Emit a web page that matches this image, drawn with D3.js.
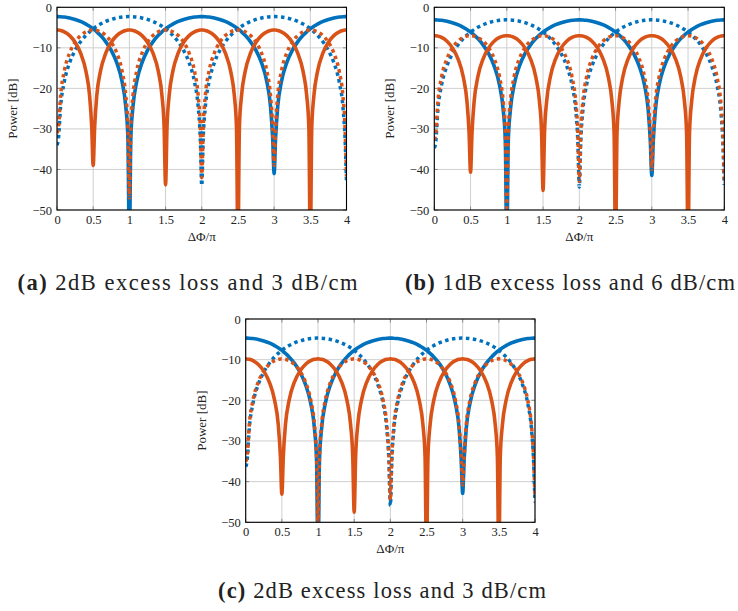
<!DOCTYPE html>
<html>
<head>
<meta charset="utf-8">
<script src="https://cdn.jsdelivr.net/npm/d3@7"></script>
<style>
  html, body { margin: 0; padding: 0; background: #fff; }
  svg { display: block; }
  text { font-family: "Liberation Serif", "DejaVu Serif", serif; fill: #222; }
</style>
</head>
<body>
<svg id="fig" width="738" height="611"></svg>
<script>
// ---- shared x samples (ΔΦ/π) ----
const X = [0,0.02,0.05,0.1,0.175,0.25,0.325,0.4,0.45,0.48,
  0.5,0.52,0.55,0.6,0.675,0.75,0.825,0.9,0.95,0.98,
  1,1.02,1.05,1.1,1.175,1.25,1.325,1.4,1.45,1.48,
  1.5,1.52,1.55,1.6,1.675,1.75,1.825,1.9,1.95,1.98,
  2,2.02,2.05,2.1,2.175,2.25,2.325,2.4,2.45,2.48,
  2.5,2.52,2.55,2.6,2.675,2.75,2.825,2.9,2.95,2.98,
  3,3.02,3.05,3.1,3.175,3.25,3.325,3.4,3.45,3.48,
  3.5,3.52,3.55,3.6,3.675,3.75,3.825,3.9,3.95,3.98,
  4];

// ---- panel (a) ----
const aBlueSolid = [-2.3,
  -2.3,-2.33,-2.41,-2.63,-2.99,-3.48,-4.14,-4.68,-5.05,-5.31,-5.59,-6.05,-6.92,-8.52,-10.64,-13.63,-18.41,-24.41,-32.36,
  -60,
  -32.36,-24.41,-18.41,-13.63,-10.64,-8.52,-6.92,-6.05,-5.59,-5.31,-5.05,-4.68,-4.14,-3.48,-2.99,-2.63,-2.41,-2.33,-2.3,
  -2.3,
  -2.3,-2.33,-2.41,-2.63,-2.99,-3.48,-4.14,-4.68,-5.05,-5.31,-5.59,-6.05,-6.92,-8.52,-10.64,-13.63,-18.41,-24.41,-32.36,
  -41,
  -32.36,-24.41,-18.41,-13.63,-10.64,-8.52,-6.92,-6.05,-5.59,-5.31,-5.05,-4.68,-4.14,-3.48,-2.99,-2.63,-2.41,-2.33,-2.3,
  -2.3];
const aBlueDotted = [-34,
  -32.36,-24.41,-18.41,-13.63,-10.64,-8.52,-6.92,-6.05,-5.59,-5.31,-5.05,-4.68,-4.14,-3.48,-2.99,-2.63,-2.41,-2.33,-2.3,
  -2.3,
  -2.3,-2.33,-2.41,-2.63,-2.99,-3.48,-4.14,-4.68,-5.05,-5.31,-5.59,-6.05,-6.92,-8.52,-10.64,-13.63,-18.41,-24.41,-32.36,
  -44,
  -32.36,-24.41,-18.41,-13.63,-10.64,-8.52,-6.92,-6.05,-5.59,-5.31,-5.05,-4.68,-4.14,-3.48,-2.99,-2.63,-2.41,-2.33,-2.3,
  -2.3,
  -2.3,-2.33,-2.41,-2.63,-2.99,-3.48,-4.14,-4.68,-5.05,-5.31,-5.59,-6.05,-6.92,-8.52,-10.64,-13.63,-18.41,-24.41,-32.36,
  -43];
const aOrangeSolid = [-5.6,
  -5.62,-5.71,-6.04,-6.98,-8.61,-11.24,-15.8,-21.71,-29.64,
  -39,
  -29.64,-21.71,-15.8,-11.24,-8.61,-6.98,-6.04,-5.71,-5.62,
  -5.6,
  -5.62,-5.71,-6.04,-6.98,-8.61,-11.24,-15.8,-21.71,-29.64,
  -43.8,
  -29.64,-21.71,-15.8,-11.24,-8.61,-6.98,-6.04,-5.71,-5.62,
  -5.6,
  -5.62,-5.71,-6.04,-6.98,-8.61,-11.24,-15.8,-21.71,-29.64,
  -60,
  -29.64,-21.71,-15.8,-11.24,-8.61,-6.98,-6.04,-5.71,-5.62,
  -5.6,
  -5.62,-5.71,-6.04,-6.98,-8.61,-11.24,-15.8,-21.71,-29.64,
  -60,
  -29.64,-21.71,-15.8,-11.24,-8.61,-6.98,-6.04,-5.71,-5.62,
  -5.6];
const aOrangeDotted = [-31,
  -29.64,-21.71,-15.8,-11.24,-8.61,-6.98,-6.04,-5.71,-5.62,
  -5.6,
  -5.62,-5.71,-6.04,-6.98,-8.61,-11.24,-15.8,-21.71,-29.64,
  -47,
  -29.64,-21.71,-15.8,-11.24,-8.61,-6.98,-6.04,-5.71,-5.62,
  -5.6,
  -5.62,-5.71,-6.04,-6.98,-8.61,-11.24,-15.8,-21.71,-29.64,
  -42,
  -29.64,-21.71,-15.8,-11.24,-8.61,-6.98,-6.04,-5.71,-5.62,
  -5.6,
  -5.62,-5.71,-6.04,-6.98,-8.61,-11.24,-15.8,-21.71,-29.64,
  -39,
  -29.64,-21.71,-15.8,-11.24,-8.61,-6.98,-6.04,-5.71,-5.62,
  -5.6,
  -5.62,-5.71,-6.04,-6.98,-8.61,-11.24,-15.8,-21.71,-29.64,
  -41.7];

// ---- panel (b) ----
const bBlueSolid = [-3.1,
  -3.1,-3.13,-3.21,-3.43,-3.79,-4.28,-4.94,-5.48,-5.85,-6.11,-6.39,-6.85,-7.72,-9.32,-11.44,-14.43,-19.21,-25.21,-33.16,
  -60,
  -33.16,-25.21,-19.21,-14.43,-11.44,-9.32,-7.72,-6.85,-6.39,-6.11,-5.85,-5.48,-4.94,-4.28,-3.79,-3.43,-3.21,-3.13,-3.1,
  -3.1,
  -3.1,-3.13,-3.21,-3.43,-3.79,-4.28,-4.94,-5.48,-5.85,-6.11,-6.39,-6.85,-7.72,-9.32,-11.44,-14.43,-19.21,-25.21,-33.16,
  -41.5,
  -33.16,-25.21,-19.21,-14.43,-11.44,-9.32,-7.72,-6.85,-6.39,-6.11,-5.85,-5.48,-4.94,-4.28,-3.79,-3.43,-3.21,-3.13,-3.1,
  -3.1];
const bBlueDotted = [-34.7,
  -33.16,-25.21,-19.21,-14.43,-11.44,-9.32,-7.72,-6.85,-6.39,-6.11,-5.85,-5.48,-4.94,-4.28,-3.79,-3.43,-3.21,-3.13,-3.1,
  -3.1,
  -3.1,-3.13,-3.21,-3.43,-3.79,-4.28,-4.94,-5.48,-5.85,-6.11,-6.39,-6.85,-7.72,-9.32,-11.44,-14.43,-19.21,-25.21,-33.16,
  -44.3,
  -33.16,-25.21,-19.21,-14.43,-11.44,-9.32,-7.72,-6.85,-6.39,-6.11,-5.85,-5.48,-4.94,-4.28,-3.79,-3.43,-3.21,-3.13,-3.1,
  -3.1,
  -3.1,-3.13,-3.21,-3.43,-3.79,-4.28,-4.94,-5.48,-5.85,-6.11,-6.39,-6.85,-7.72,-9.32,-11.44,-14.43,-19.21,-25.21,-33.16,
  -43.8];
const bOrangeSolid = [-7,
  -7.02,-7.11,-7.44,-8.38,-10.01,-12.64,-17.2,-23.11,-31.04,
  -40.7,
  -31.04,-23.11,-17.2,-12.64,-10.01,-8.38,-7.44,-7.11,-7.02,
  -7,
  -7.02,-7.11,-7.44,-8.38,-10.01,-12.64,-17.2,-23.11,-31.04,
  -45.2,
  -31.04,-23.11,-17.2,-12.64,-10.01,-8.38,-7.44,-7.11,-7.02,
  -7,
  -7.02,-7.11,-7.44,-8.38,-10.01,-12.64,-17.2,-23.11,-31.04,
  -60,
  -31.04,-23.11,-17.2,-12.64,-10.01,-8.38,-7.44,-7.11,-7.02,
  -7,
  -7.02,-7.11,-7.44,-8.38,-10.01,-12.64,-17.2,-23.11,-31.04,
  -60,
  -31.04,-23.11,-17.2,-12.64,-10.01,-8.38,-7.44,-7.11,-7.02,
  -7];
const bOrangeDotted = [-32.7,
  -31.04,-23.11,-17.2,-12.64,-10.01,-8.38,-7.44,-7.11,-7.02,
  -7,
  -7.02,-7.11,-7.44,-8.38,-10.01,-12.64,-17.2,-23.11,-31.04,
  -49.5,
  -31.04,-23.11,-17.2,-12.64,-10.01,-8.38,-7.44,-7.11,-7.02,
  -7,
  -7.02,-7.11,-7.44,-8.38,-10.01,-12.64,-17.2,-23.11,-31.04,
  -42.9,
  -31.04,-23.11,-17.2,-12.64,-10.01,-8.38,-7.44,-7.11,-7.02,
  -7,
  -7.02,-7.11,-7.44,-8.38,-10.01,-12.64,-17.2,-23.11,-31.04,
  -40,
  -31.04,-23.11,-17.2,-12.64,-10.01,-8.38,-7.44,-7.11,-7.02,
  -7,
  -7.02,-7.11,-7.44,-8.38,-10.01,-12.64,-17.2,-23.11,-31.04,
  -42.5];

// ---- panel (c) ----
const cBlueSolid = [-4.7,
  -4.7,-4.73,-4.81,-5.03,-5.39,-5.88,-6.54,-7.08,-7.45,-7.71,-7.99,-8.45,-9.32,-10.92,-13.04,-16.03,-20.81,-26.81,-34.76,
  -60,
  -34.76,-26.81,-20.81,-16.03,-13.04,-10.92,-9.32,-8.45,-7.99,-7.71,-7.45,-7.08,-6.54,-5.88,-5.39,-5.03,-4.81,-4.73,-4.7,
  -4.7,
  -4.7,-4.73,-4.81,-5.03,-5.39,-5.88,-6.54,-7.08,-7.45,-7.71,-7.99,-8.45,-9.32,-10.92,-13.04,-16.03,-20.81,-26.81,-34.76,
  -42.9,
  -34.76,-26.81,-20.81,-16.03,-13.04,-10.92,-9.32,-8.45,-7.99,-7.71,-7.45,-7.08,-6.54,-5.88,-5.39,-5.03,-4.81,-4.73,-4.7,
  -4.7];
const cBlueDotted = [-36.3,
  -34.76,-26.81,-20.81,-16.03,-13.04,-10.92,-9.32,-8.45,-7.99,-7.71,-7.45,-7.08,-6.54,-5.88,-5.39,-5.03,-4.81,-4.73,-4.7,
  -4.7,
  -4.7,-4.73,-4.81,-5.03,-5.39,-5.88,-6.54,-7.08,-7.45,-7.71,-7.99,-8.45,-9.32,-10.92,-13.04,-16.03,-20.81,-26.81,-34.76,
  -45.9,
  -34.76,-26.81,-20.81,-16.03,-13.04,-10.92,-9.32,-8.45,-7.99,-7.71,-7.45,-7.08,-6.54,-5.88,-5.39,-5.03,-4.81,-4.73,-4.7,
  -4.7,
  -4.7,-4.73,-4.81,-5.03,-5.39,-5.88,-6.54,-7.08,-7.45,-7.71,-7.99,-8.45,-9.32,-10.92,-13.04,-16.03,-20.81,-26.81,-34.76,
  -45.1];
const cOrangeSolid = [-9.8,
  -9.82,-9.91,-10.24,-11.18,-12.81,-15.44,-20,-25.91,-33.84,
  -43.1,
  -33.84,-25.91,-20,-15.44,-12.81,-11.18,-10.24,-9.91,-9.82,
  -9.8,
  -9.82,-9.91,-10.24,-11.18,-12.81,-15.44,-20,-25.91,-33.84,
  -47.5,
  -33.84,-25.91,-20,-15.44,-12.81,-11.18,-10.24,-9.91,-9.82,
  -9.8,
  -9.82,-9.91,-10.24,-11.18,-12.81,-15.44,-20,-25.91,-33.84,
  -60,
  -33.84,-25.91,-20,-15.44,-12.81,-11.18,-10.24,-9.91,-9.82,
  -9.8,
  -9.82,-9.91,-10.24,-11.18,-12.81,-15.44,-20,-25.91,-33.84,
  -60,
  -33.84,-25.91,-20,-15.44,-12.81,-11.18,-10.24,-9.91,-9.82,
  -9.8];
const cOrangeDotted = [-35,
  -33.84,-25.91,-20,-15.44,-12.81,-11.18,-10.24,-9.91,-9.82,
  -9.8,
  -9.82,-9.91,-10.24,-11.18,-12.81,-15.44,-20,-25.91,-33.84,
  -50.5,
  -33.84,-25.91,-20,-15.44,-12.81,-11.18,-10.24,-9.91,-9.82,
  -9.8,
  -9.82,-9.91,-10.24,-11.18,-12.81,-15.44,-20,-25.91,-33.84,
  -44.5,
  -33.84,-25.91,-20,-15.44,-12.81,-11.18,-10.24,-9.91,-9.82,
  -9.8,
  -9.82,-9.91,-10.24,-11.18,-12.81,-15.44,-20,-25.91,-33.84,
  -40.8,
  -33.84,-25.91,-20,-15.44,-12.81,-11.18,-10.24,-9.91,-9.82,
  -9.8,
  -9.82,-9.91,-10.24,-11.18,-12.81,-15.44,-20,-25.91,-33.84,
  -43.7];

// ---- ticks & labels ----
const xTicks = [0,0.5,1,1.5,2,2.5,3,3.5,4];
const xTickLabels = ["0","0.5","1","1.5","2","2.5","3","3.5","4"];
const yTicks = [0,-10,-20,-30,-40,-50];
const yTickLabels = ["0","\u221210","\u221220","\u221230","\u221240","\u221250"];
const xLabel = "\u0394\u03A6/\u03C0";
const yLabel = "Power [dB]";
const captionTags = ["(a)","(b)","(c)"];
const captionTexts = ["2dB excess loss and 3 dB/cm","1dB excess loss and 6 dB/cm","2dB excess loss and 3 dB/cm"];

// ---- layout (positions only) ----
const layout = [
  {left:57,    right:346.5, top:7.3, bottom:210,   capX:187.5, capY:290, capW:340},
  {left:434.3, right:724.3, top:7.3, bottom:210,   capX:570,   capY:290, capW:330},
  {left:245.7, right:535,   top:319, bottom:522.3, capX:382,   capY:598, capW:328}
];
const seriesSets = [
  [aBlueSolid, aBlueDotted, aOrangeSolid, aOrangeDotted],
  [bBlueSolid, bBlueDotted, bOrangeSolid, bOrangeDotted],
  [cBlueSolid, cBlueDotted, cOrangeSolid, cOrangeDotted]
];
const styles = [
  {color:"#0072BD", dash:null, width:3.6},
  {color:"#0072BD", dash:"3.5,3.5", width:3.5},
  {color:"#D95319", dash:null, width:3.6},
  {color:"#D95319", dash:"3.5,3.5", width:3.5}
];

const svg = d3.select("#fig");

layout.forEach((L, pi) => {
  const x = d3.scaleLinear().domain([0,4]).range([L.left, L.right]);
  const y = d3.scaleLinear().domain([-50,0]).range([L.bottom, L.top]);
  const g = svg.append("g");

  const clipId = "clip" + pi;
  svg.append("clipPath").attr("id", clipId).append("rect")
    .attr("x", L.left).attr("y", L.top)
    .attr("width", L.right - L.left).attr("height", L.bottom - L.top);

  // grid
  g.append("g").selectAll("line").data(xTicks).join("line")
    .attr("x1", d => x(d)).attr("x2", d => x(d))
    .attr("y1", L.top).attr("y2", L.bottom)
    .attr("stroke", "#cfcfcf").attr("stroke-width", 1);
  g.append("g").selectAll("line").data(yTicks).join("line")
    .attr("x1", L.left).attr("x2", L.right)
    .attr("y1", d => y(d)).attr("y2", d => y(d))
    .attr("stroke", "#cfcfcf").attr("stroke-width", 1);

  // small inner ticks
  const tk = g.append("g").attr("stroke", "#8a8a8a").attr("stroke-width", 1);
  xTicks.forEach(d => {
    tk.append("line").attr("x1", x(d)).attr("x2", x(d)).attr("y1", L.bottom).attr("y2", L.bottom - 3.5);
    tk.append("line").attr("x1", x(d)).attr("x2", x(d)).attr("y1", L.top).attr("y2", L.top + 3.5);
  });
  yTicks.forEach(d => {
    tk.append("line").attr("x1", L.left).attr("x2", L.left + 3.5).attr("y1", y(d)).attr("y2", y(d));
    tk.append("line").attr("x1", L.right).attr("x2", L.right - 3.5).attr("y1", y(d)).attr("y2", y(d));
  });

  // curves
  const cg = g.append("g").attr("clip-path", `url(#${clipId})`);
  seriesSets[pi].forEach((vals, si) => {
    if (vals.length !== X.length) console.error("length mismatch", pi, si, vals.length);
    const line = d3.line()
      .x((d, i) => x(X[i]))
      .y(d => y(d))
      .curve(d3.curveMonotoneX);
    const st = styles[si];
    const p = cg.append("path").attr("d", line(vals))
      .attr("fill", "none").attr("stroke", st.color)
      .attr("stroke-width", st.width)
      .attr("stroke-linejoin", "bevel").attr("stroke-linecap", "butt");
    if (st.dash) p.attr("stroke-dasharray", st.dash);
  });

  // frame
  g.append("rect").attr("x", L.left).attr("y", L.top)
    .attr("width", L.right - L.left).attr("height", L.bottom - L.top)
    .attr("fill", "none").attr("stroke", "#000").attr("stroke-width", 1.1);

  // axes (labels only)
  const xa = g.append("g").attr("transform", `translate(0,${L.bottom})`)
    .call(d3.axisBottom(x).tickValues(xTicks).tickFormat((d,i) => xTickLabels[i]).tickSize(0).tickPadding(5));
  const ya = g.append("g").attr("transform", `translate(${L.left},0)`)
    .call(d3.axisLeft(y).tickValues(yTicks).tickFormat((d,i) => yTickLabels[i]).tickSize(0).tickPadding(5));
  [xa, ya].forEach(a => {
    a.select(".domain").remove();
    a.selectAll("text").attr("font-family", "Liberation Serif, DejaVu Serif, serif")
      .attr("font-size", 12.5).attr("fill", "#222");
  });

  // axis titles
  g.append("text").attr("x", (L.left + L.right) / 2).attr("y", L.bottom + 31)
    .attr("text-anchor", "middle").attr("font-size", 13).text(xLabel);
  g.append("text")
    .attr("transform", `translate(${L.left - 40},${(L.top + L.bottom) / 2}) rotate(-90)`)
    .attr("text-anchor", "middle").attr("font-size", 13).text(yLabel);

  // caption
  const cap = svg.append("text").attr("x", L.capX).attr("y", L.capY)
    .attr("text-anchor", "middle").attr("font-size", 22.5)
    .attr("textLength", L.capW).attr("lengthAdjust", "spacing");
  cap.append("tspan").attr("font-weight", "bold").text(captionTags[pi]);
  cap.append("tspan").text(" " + captionTexts[pi]);
});
</script>
</body>
</html>
